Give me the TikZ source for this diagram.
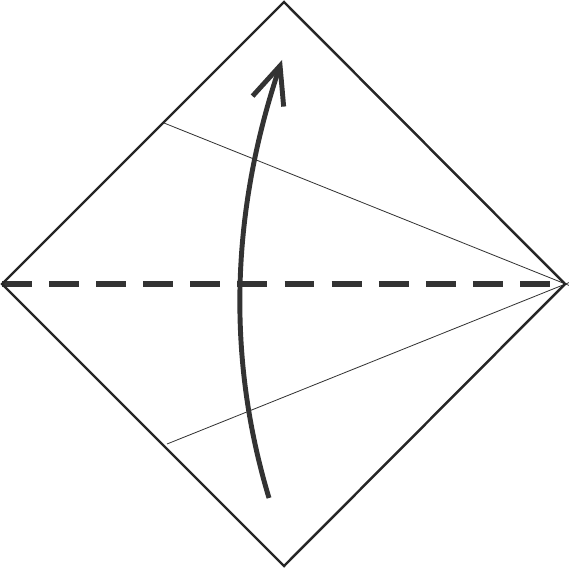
\documentclass[tikz,border=0pt]{standalone}
\usepackage{tikz}
\usetikzlibrary{arrows.meta}

\begin{document}
\begin{tikzpicture}[x=0.03cm,y=-0.03cm,
  edge/.style={draw=black!85, line width=2.1pt},
  crease/.style={draw=black!80, line width=0.7pt},
  valley/.style={draw=black!80, line width=4.3pt, dash pattern=on 25.5pt off 14.7pt},
  fold/.style={draw=black!80, line width=4.2pt, -{Straight Barb[length=32pt,width=28pt,line width=4.2pt]}}]
\useasboundingbox (0,0) rectangle (569,568);
\coordinate (top) at (284,2);
\coordinate (right) at (565,284);
\coordinate (bottom) at (284,566);
\coordinate (left) at (2,284);
\coordinate (up) at (164,123);
\coordinate (low) at (167,444);
\coordinate (upend) at (569,285.4);
\coordinate (lowend) at (569,282.6);
\coordinate (dashend) at (552,284);
\coordinate (from) at (269,498);
\coordinate (to) at (282,60);

\draw[crease] (up) -- (upend);
\draw[crease] (low) -- (lowend);
\draw[valley] (left) -- (dashend);
\draw[edge, line join=miter] (top) -- (right) -- (bottom) -- (left) -- cycle;
\draw[fold] (from) .. controls (226.7,358) and (230.7,212.7) .. (to);
\end{tikzpicture}
\end{document}
